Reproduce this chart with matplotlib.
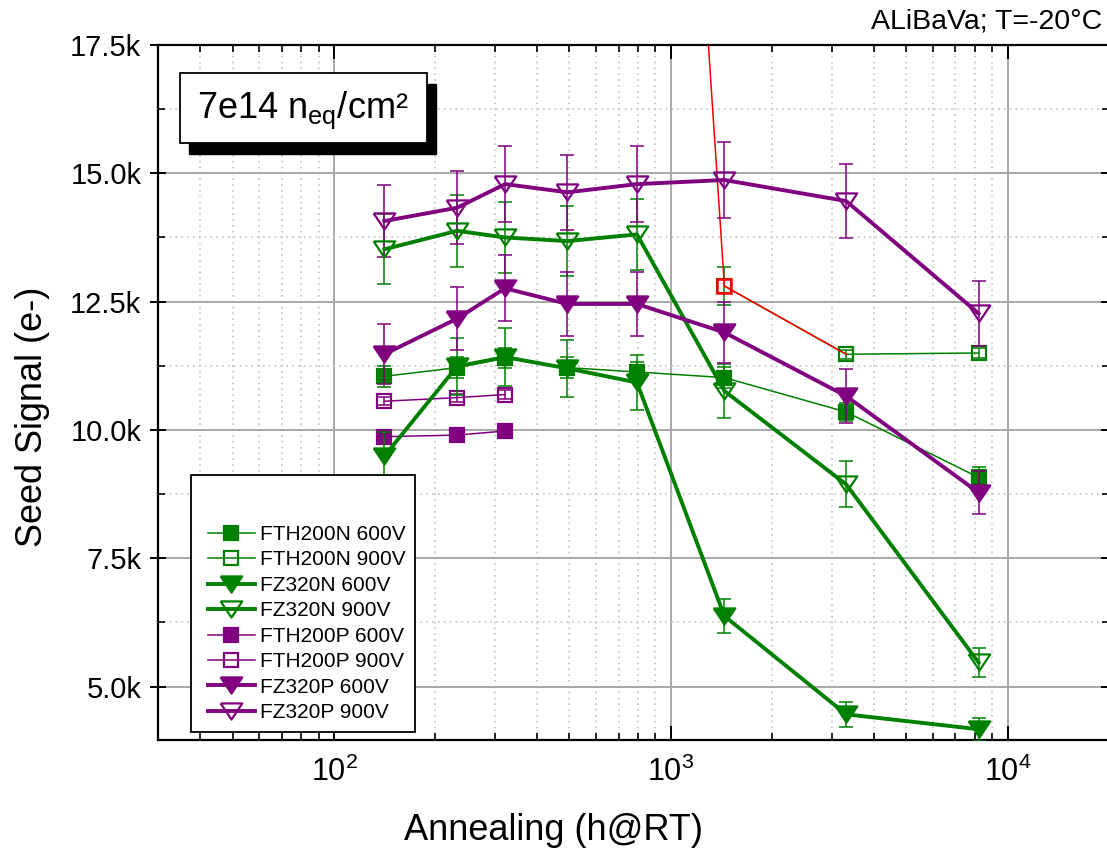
import matplotlib
matplotlib.use('Agg')
import matplotlib.pyplot as plt
from matplotlib.patches import Rectangle
from matplotlib.ticker import FixedLocator, FixedFormatter, LogLocator, NullFormatter

plt.rcParams['font.family'] = ['Liberation Sans', 'DejaVu Sans']
plt.rcParams['mathtext.fontset'] = 'custom'
plt.rcParams['mathtext.rm'] = 'Liberation Sans'
plt.rcParams['mathtext.it'] = 'Liberation Sans:italic'
plt.rcParams['mathtext.bf'] = 'Liberation Sans:bold'
plt.rcParams['mathtext.default'] = 'regular'

# ---------------- data ----------------
annealing = [141, 232, 322, 493, 793, 1442, 3316, 8200]          # h @ RT

fth200n_600 = [11045, 11215, 11400, 11215, 11130, 11020, 10350, 9075]
fth200n_600_err = [200, 200, 200, 200, 200, 200, 180, 200]

fth200n_900_x = [1442, 3316, 8200]
fth200n_900 = [12805, 11475, 11500]
fth200n_900_err = [370, 90, 90]

fz320n_600 = [9490, 11240, 11420, 11200, 10925, 6375, 4460, 4170]
fz320n_600_err = [480, 560, 570, 560, 545, 330, 250, 220]

fz320n_900 = [13520, 13880, 13750, 13680, 13810, 10760, 8940, 5470]
fz320n_900_err = [680, 700, 690, 680, 690, 530, 450, 280]

fth200p_x = [141, 232, 322]
fth200p_600 = [9870, 9900, 9980]
fth200p_600_err = [40, 40, 40]
fth200p_900 = [10560, 10630, 10690]
fth200p_900_err = [80, 80, 80]

fz320p_600 = [11475, 12170, 12760, 12455, 12455, 11900, 10660, 8780]
fz320p_600_err = [580, 610, 640, 620, 620, 590, 530, 420]

fz320p_900 = [14070, 14330, 14790, 14630, 14790, 14870, 14460, 12270]
fz320p_900_err = [700, 715, 740, 730, 740, 745, 720, 640]

red_x = [793, 1442, 3316]
red_y = [38500, 12805, 11475]

ytick_values = [5000, 7500, 10000, 12500, 15000, 17500]
ytick_labels = ['5.0k', '7.5k', '10.0k', '12.5k', '15.0k', '17.5k']
yminor_values = [6250, 8750, 11250, 13750, 16250]

labels = ['FTH200N 600V', 'FTH200N 900V', 'FZ320N 600V', 'FZ320N 900V',
          'FTH200P 600V', 'FTH200P 900V', 'FZ320P 600V', 'FZ320P 900V']

# ---------------- figure ----------------
W, H = 1107, 849
fig = plt.figure(figsize=(W / 100, H / 100), dpi=100)
ax = fig.add_axes([158 / W, (H - 740) / H, (1109 - 158) / W, (740 - 45) / H])
ax.set_xscale('log')
ax.set_xlim(30, 20000)
ax.set_ylim(3960, 17500)

GREEN = '#008000'
PURPLE = '#800080'
TRI = [(-1, 0.75), (1, 0.75), (0, -0.75), (-1, 0.75)]


def series(xs, ys, errs, color, marker, filled, lw, ms, label, z):
    ax.errorbar(xs, ys, yerr=errs, fmt='none', ecolor=color, elinewidth=1.1,
                capsize=4.7, capthick=1.1, zorder=z)
    h, = ax.plot(xs, ys, color=color, lw=lw, marker=marker, ms=ms,
                 mfc=(color if filled else 'none'), mec=color, mew=1.6,
                 label=label, zorder=z + 0.1)
    return h


thin, thick = 1.1, 2.8
h1 = series(annealing, fth200n_600, fth200n_600_err, GREEN, 's', True, thin, 10.5, labels[0], 3)
h2 = series(fth200n_900_x, fth200n_900, fth200n_900_err, GREEN, 's', False, thin, 9.5, labels[1], 3)
h5 = series(fth200p_x, fth200p_600, fth200p_600_err, PURPLE, 's', True, thin, 10.5, labels[4], 3)
h6 = series(fth200p_x, fth200p_900, fth200p_900_err, PURPLE, 's', False, thin, 9.5, labels[5], 3)
ax.plot(red_x, red_y, color='red', lw=1.1, marker='s', markevery=[1], ms=9.5,
        mfc='none', mec='red', mew=1.8, zorder=3.5)
h3 = series(annealing, fz320n_600, fz320n_600_err, GREEN, TRI, True, thick, 15.5, labels[2], 4)
h4 = series(annealing, fz320n_900, fz320n_900_err, GREEN, TRI, False, thick, 15.5, labels[3], 4)
h7 = series(annealing, fz320p_600, fz320p_600_err, PURPLE, TRI, True, thick, 15.5, labels[6], 4)
h8 = series(annealing, fz320p_900, fz320p_900_err, PURPLE, TRI, False, thick, 15.5, labels[7], 4)

# ---------------- axes styling ----------------
ax.yaxis.set_major_locator(FixedLocator(ytick_values))
ax.yaxis.set_major_formatter(FixedFormatter(ytick_labels))
ax.yaxis.set_minor_locator(FixedLocator(yminor_values))
ax.xaxis.set_major_locator(LogLocator(base=10))
ax.xaxis.set_minor_locator(LogLocator(base=10, subs=range(2, 10)))
ax.xaxis.set_minor_formatter(NullFormatter())

ax.set_axisbelow(True)
ax.grid(which='major', color='#a8a8a8', lw=1.4, ls='-')
ax.grid(which='minor', color='#c4c4c4', lw=1.2, ls=(0, (1.0, 2.5)))

for s in ax.spines.values():
    s.set_linewidth(1.6)
ax.tick_params(axis='x', which='major', direction='in', length=10, width=1.4,
               top=True, labelsize=22, pad=12)
ax.tick_params(axis='x', which='minor', direction='in', length=5, width=1.2, top=True)
ax.tick_params(axis='y', which='major', direction='inout', length=12, width=1.4,
               right=True, labelsize=21, pad=6)
ax.tick_params(axis='y', which='minor', direction='in', length=5, width=1.2, right=True)

ax.set_xlabel('Annealing (h@RT)', fontsize=26, va='baseline')
ax.xaxis.set_label_coords(0.5, (H - 840) / H, transform=fig.transFigure)
ax.set_ylabel('Seed Signal (e-)', fontsize=26, va='baseline')
ax.yaxis.set_label_coords(42 / W, (H - 417) / H, transform=fig.transFigure)

# ---------------- legend ----------------
ax.add_patch(Rectangle((191 / W, (H - 732) / H), (415 - 191) / W, (732 - 475) / H,
                       transform=fig.transFigure, facecolor='white', edgecolor='black',
                       lw=1.3, zorder=6))
leg = ax.legend(handles=[h1, h2, h3, h4, h5, h6, h7, h8], loc='upper left',
                bbox_to_anchor=(208 / W, (H - 525) / H), bbox_transform=fig.transFigure,
                frameon=False, fontsize=15, handlelength=2.25, handletextpad=0.25,
                labelspacing=0.31, borderpad=0, borderaxespad=0)
leg.set_zorder(7)

# ---------------- fluence box ----------------
ax.add_patch(Rectangle((189 / W, (H - 154) / H), (436 - 189) / W, (154 - 84) / H,
                       transform=fig.transFigure, facecolor='black', edgecolor='black',
                       lw=1.0, zorder=6))
ax.add_patch(Rectangle((180 / W, (H - 143) / H), (427 - 180) / W, (143 - 73) / H,
                       transform=fig.transFigure, facecolor='white', edgecolor='black',
                       lw=1.3, zorder=6.5))
fig.text(197 / W, (H - 118) / H, r'7e14 n$_{\mathregular{eq}}$/cm²', fontsize=26,
         ha='left', va='baseline', zorder=8)

fig.text(1102 / W, (H - 28) / H, 'ALiBaVa; T=-20°C', fontsize=20.5,
         ha='right', va='baseline')

fig.savefig('out.png', dpi=100)
